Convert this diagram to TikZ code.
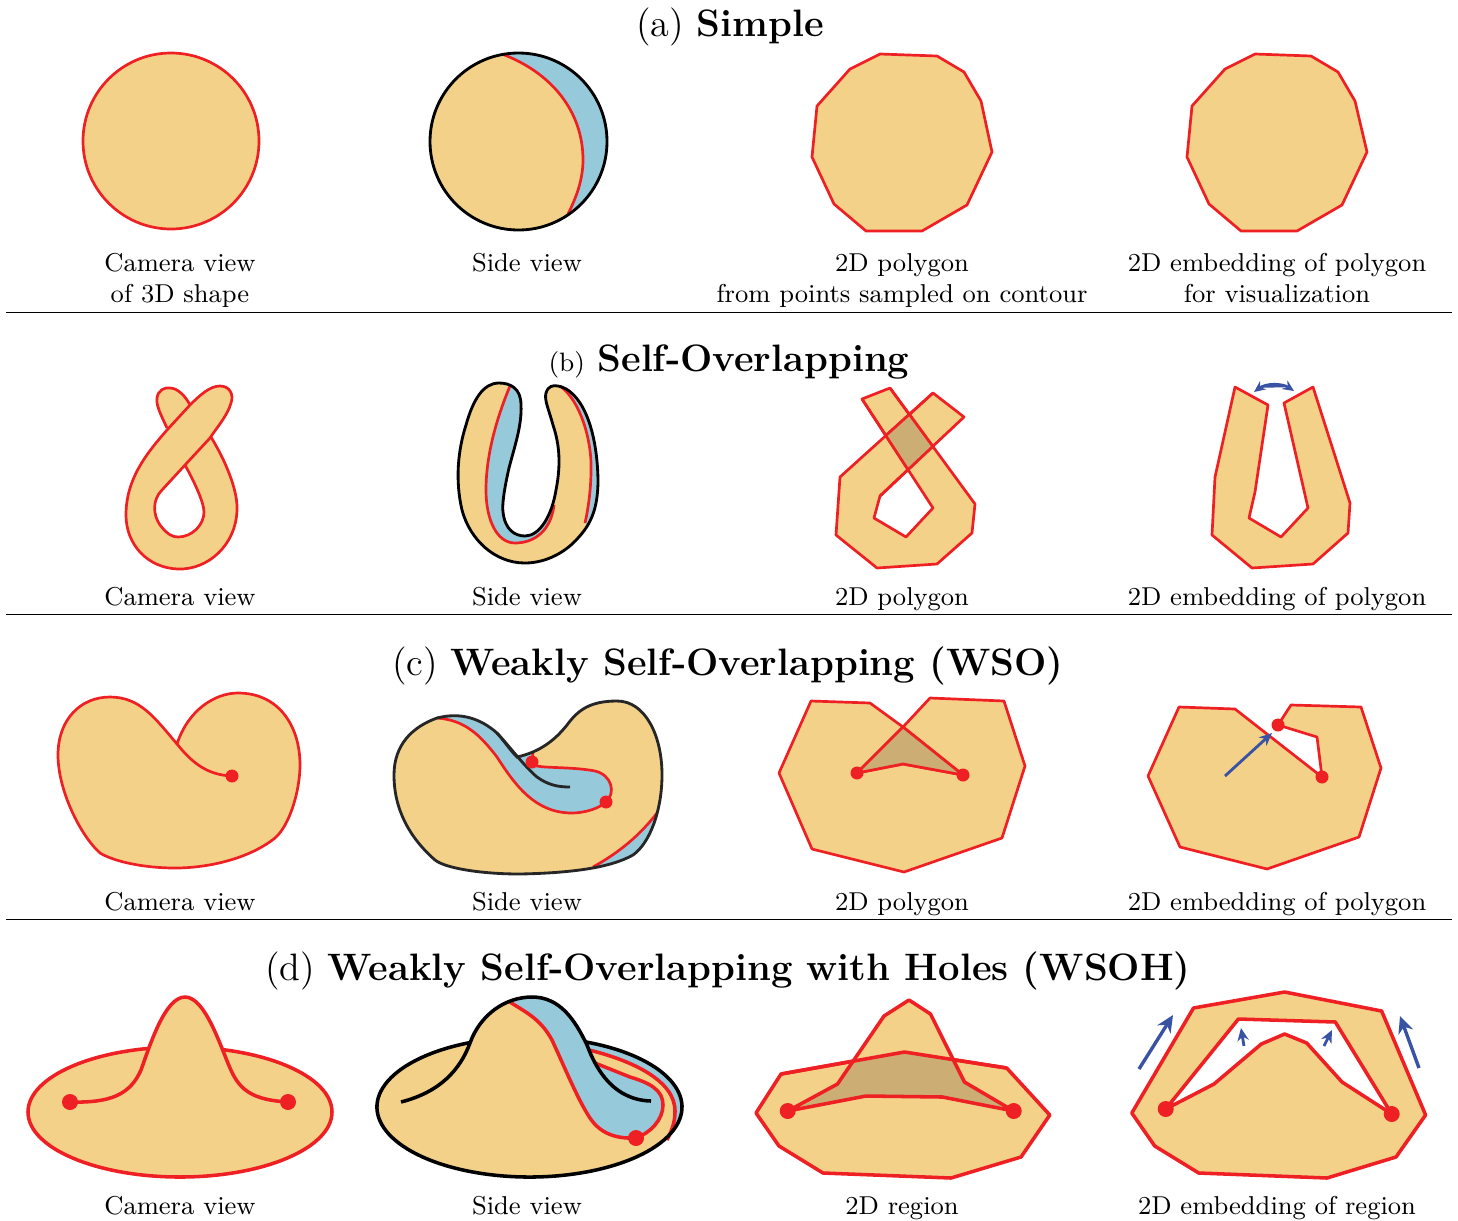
\documentclass[tikz,border=0pt]{standalone}
\usepackage{amsmath,amssymb,amsfonts}
\usepackage{tikz}
\usetikzlibrary{arrows.meta}

\definecolor{sand}{HTML}{F3D189}
\definecolor{darksand}{HTML}{CCAD73}
\definecolor{skyblue}{HTML}{96CADB}
\definecolor{redline}{HTML}{EE2024}
\definecolor{arrowblue}{HTML}{3953A4}

\tikzset{
  thinshape/.style={draw=redline, line width=0.95pt, line join=round, fill=sand},
  thickshape/.style={draw=redline, line width=1.25pt, line join=round, fill=sand},
  redcurve/.style={draw=redline, line width=0.95pt},
  thickcurve/.style={draw=redline, line width=1.25pt},
  blackcurve/.style={draw=black, line width=1pt},
  overlap/.style={fill=darksand},
  dot/.style={fill=redline},
  bluearrow/.style={-{Stealth[length=4.5pt,width=4pt]}, draw=arrowblue, fill=arrowblue, line width=1pt},
  bigarrow/.style={-{Stealth[length=6pt,width=5.5pt]}, draw=arrowblue, fill=arrowblue, line width=1.2pt},
  caption/.style={align=center, font=\fontsize{9.13}{11}\selectfont, inner sep=0pt, text height=1.5ex, text depth=0.4ex},
  heading/.style={align=center, font=\fontsize{13.5}{16}\selectfont, inner sep=0pt},
  rowrule/.style={draw=black, line width=0.35pt}
}

% Curve pieces that are used more than once
\newcommand{\sideb}{(499,383) .. controls (510,383) and (521,388) .. (521,405) .. controls (522,425) and (515,445) .. (509,468) .. controls (504,490) and (502,505) .. (503,512) .. controls (505,530) and (515,536) .. (525,536) .. controls (540,536) and (552,515) .. (556,490) .. controls (562,460) and (558,440) .. (553,425) .. controls (549,410) and (544,400) .. (546,393) .. controls (548,386) and (553,385) .. (558,386) .. controls (580,390) and (597,425) .. (598,480) .. controls (598,510) and (590,525) .. (578,538) .. controls (565,553) and (545,563) .. (525,563) .. controls (495,563) and (470,540) .. (462,510) .. controls (455,480) and (458,450) .. (466,425) .. controls (473,400) and (483,383) .. (499,383) -- cycle}
\newcommand{\sidec}{(437,718) .. controls (460,712) and (480,718) .. (497,733) .. controls (505,742) and (510,750) .. (517,757) .. controls (540,752) and (555,740) .. (567,725) .. controls (578,710) and (590,701) .. (617,701) .. controls (645,701) and (662,735) .. (662,775) .. controls (662,810) and (650,843) .. (633,855) .. controls (610,868) and (570,873) .. (520,874) .. controls (480,874) and (445,868) .. (435,860) .. controls (410,838) and (394,810) .. (394,775) .. controls (394,745) and (412,727) .. (437,718) -- cycle}
\newcommand{\knotlobe}{(167,428) .. controls (160,413) and (156,405) .. (157,398) .. controls (158,390) and (165,387) .. (170,388) .. controls (178,388) and (186,397) .. (190,405)}
\newcommand{\knotbody}{(211,437) .. controls (225,460) and (238,490) .. (237,510) .. controls (236,545) and (208,570) .. (178,569) .. controls (148,568) and (126,545) .. (126,515) .. controls (126,480) and (145,455) .. (167,430) -- (190,405) .. controls (200,395) and (210,386) .. (220,386) .. controls (230,386) and (234,395) .. (231,403) .. controls (228,415) and (215,430) .. (210,438) -- (185,465) -- (162,490) .. controls (152,500) and (153,515) .. (160,525) .. controls (167,534) and (172,537) .. (178,537) .. controls (192,537) and (204,525) .. (204,512) .. controls (204,503) and (195,483) .. (185,465)}
\newcommand{\bumpd}{(401,1102) .. controls (440,1092) and (460,1070) .. (470,1043) .. controls (480,1015) and (505,997) .. (532,997) .. controls (560,997) and (575,1020) .. (587,1045) .. controls (597,1072) and (615,1100) .. (651,1101)}
\newcommand{\redcb}{(437,718) .. controls (465,720) and (480,735) .. (497,757) .. controls (515,785) and (535,813) .. (572,813) .. controls (585,813) and (600,808) .. (606,802) .. controls (616,793) and (612,775) .. (595,771) .. controls (575,767) and (545,768) .. (537,766) .. controls (534,765) and (532,764) .. (532,762)}
\newcommand{\reddb}{(510,1002) .. controls (525,1012) and (540,1018) .. (552,1040) .. controls (565,1068) and (578,1100) .. (590,1118) .. controls (600,1133) and (615,1139) .. (636,1138) .. controls (650,1133) and (663,1120) .. (663,1105) .. controls (663,1090) and (650,1083) .. (630,1077) -- (595,1063)}

\begin{document}
\begin{tikzpicture}[x=0.3533pt, y=-0.3533pt]
\useasboundingbox (0,0) rectangle (1458,1220);

% Headings
\node[heading] (titleA) at (730,27) {(a) \textbf{Simple}};
\node[heading] (titleB) at (729,362) {{\fontsize{9.4}{11}\selectfont (b)} \textbf{Self-Overlapping}};
\node[heading] (titleC) at (728,666) {(c) \textbf{Weakly Self-Overlapping (WSO)}};
\node[heading] (titleD) at (728,971) {(d) \textbf{Weakly Self-Overlapping with Holes (WSOH)}};

% Row rules
\draw[rowrule] (6,312.5) -- (1452,312.5);
\draw[rowrule] (6,614.5) -- (1452,614.5);
\draw[rowrule] (6,919.5) -- (1452,919.5);

% Captions
\node[caption] (capAa) at (180,265) {Camera view};
\node[caption] (capAb) at (180,296) {of 3D shape};
\node[caption] (capAc) at (527,265) {Side view};
\node[caption] (capAd) at (902,265) {2D polygon};
\node[caption] (capAe) at (902,296) {from points sampled on contour};
\node[caption] (capAf) at (1277,265) {2D embedding of polygon};
\node[caption] (capAg) at (1277,296) {for visualization};
\node[caption] (capBa) at (180,599) {Camera view};
\node[caption] (capBb) at (527,599) {Side view};
\node[caption] (capBc) at (902,599) {2D polygon};
\node[caption] (capBd) at (1277,599) {2D embedding of polygon};
\node[caption] (capCa) at (180,904) {Camera view};
\node[caption] (capCb) at (527,904) {Side view};
\node[caption] (capCc) at (902,904) {2D polygon};
\node[caption] (capCd) at (1277,904) {2D embedding of polygon};
\node[caption] (capDa) at (180,1208) {Camera view};
\node[caption] (capDb) at (527,1208) {Side view};
\node[caption] (capDc) at (902,1208) {2D region};
\node[caption] (capDd) at (1277,1208) {2D embedding of region};

% Simple: camera view
\draw[thinshape] (171,141) circle (88);

% Simple: side view
\fill[skyblue] (518.5,141.5) circle (88.5);
\begin{scope}
\clip (518.5,141.5) circle (88.5);
\fill[sand] (502,54) .. controls (550,72) and (583,110) .. (583,160) .. controls (583,180) and (576,198) .. (568,214) -- (568,240) -- (420,240) -- (420,40) -- (502,40) -- cycle;
\end{scope}
\draw[redcurve] (502,54) .. controls (550,72) and (583,110) .. (583,160) .. controls (583,180) and (576,198) .. (568,214);
\draw[blackcurve] (518.5,141.5) circle (88.5);

% Simple: polygon and embedding
\draw[thinshape] (850,69) -- (880,54) -- (937,56) -- (964,72) -- (981,101) -- (992,152) -- (967,205) -- (922,231) -- (866,231) -- (834,204) -- (812,157) -- (817,106) -- cycle;
\draw[thinshape] (1225,69) -- (1255,54) -- (1311,56) -- (1338,72) -- (1355,101) -- (1367,152) -- (1342,205) -- (1297,231) -- (1241,231) -- (1209,204) -- (1187,157) -- (1192,106) -- cycle;

% Self-overlapping: camera view
\fill[sand] \knotlobe -- \knotbody -- cycle;
\draw[redcurve] \knotlobe;
\draw[redcurve] \knotbody;

% Self-overlapping: side view
\fill[skyblue] \sideb;
\begin{scope}
\clip \sideb;
\fill[sand] (510,386) .. controls (500,410) and (486,450) .. (486,490) .. controls (486,520) and (497,543) .. (515,543) .. controls (535,543) and (551,530) .. (554,505) -- (530,450) -- (530,375) -- (560,380) -- (560,386) .. controls (580,400) and (592,440) .. (591,470) .. controls (591,490) and (588,510) .. (585,523) -- (640,600) -- (430,600) -- (430,375) -- (510,375) -- cycle;
\end{scope}
\draw[redcurve] (510,386) .. controls (500,410) and (486,450) .. (486,490) .. controls (486,520) and (497,543) .. (515,543) .. controls (535,543) and (551,530) .. (554,505);
\draw[redcurve] (560,386) .. controls (580,400) and (592,440) .. (591,470) .. controls (591,490) and (588,510) .. (585,523);
\draw[blackcurve] \sideb;

% Self-overlapping: polygon
\draw[thinshape] (890,388) -- (975,504) -- (972,533) -- (937,564) -- (877,568) -- (836,535) -- (840,477) -- (933,393) -- (964,417) -- (880,496) -- (874,518) -- (906,537) -- (933,508) -- (862,399) -- cycle;
\fill[overlap] (909.3,414.4) -- (932.8,446.4) -- (908,469.6) -- (885.8,435.6) -- cycle;
\draw[redcurve] (890,388) -- (932.8,446.4) -- (880,496) (933,393) -- (885.8,435.6) (862,399) -- (908,469.6);

% Self-overlapping: embedding
\draw[thinshape] (1235,387) -- (1268,405) -- (1255,492) -- (1249,518) -- (1281,537) -- (1308,508) -- (1284,403) -- (1313,387) -- (1350,503) -- (1348,533) -- (1313,564) -- (1252,568) -- (1212,535) -- (1215,477) -- cycle;
\draw[bluearrow, {Stealth[length=4pt,width=3.6pt]}-{Stealth[length=4pt,width=3.6pt]}, line width=0.85pt] (1254,392) .. controls (1266,383) and (1282,383) .. (1294,391);

% WSO: camera view
\draw[thinshape] (177,744) .. controls (188,710) and (215,693) .. (238,693) .. controls (278,693) and (300,725) .. (300,765) .. controls (300,790) and (290,825) .. (275,838) .. controls (250,858) and (210,868) .. (175,868) .. controls (145,868) and (115,862) .. (100,853) .. controls (80,835) and (58,790) .. (58,755) .. controls (58,720) and (80,697) .. (110,697) .. controls (140,697) and (155,718) .. (177,744) -- cycle;
\draw[redcurve] (177,744) .. controls (190,760) and (205,775) .. (232,776);
\fill[dot] (232,776) circle (6.5);

% WSO: side view
\fill[sand] \sidec;
\begin{scope}
\clip \sidec;
\fill[skyblue] \redcb -- (535,748) -- (500,720) -- (470,700) -- (437,700) -- cycle;
\fill[skyblue] (593,867) .. controls (620,852) and (640,835) .. (657,813) -- (680,813) -- (680,880) -- (593,880) -- cycle;
\end{scope}
\draw[redcurve] \redcb -- (533,752);
\draw[redcurve] (593,867) .. controls (620,852) and (640,835) .. (657,813);
\draw[blackcurve, draw=black!85] \sidec;
\draw[blackcurve, draw=black!85] (497,733) .. controls (510,747) and (525,767) .. (537,777) .. controls (548,785) and (558,787) .. (570,787);
\fill[dot] (532,762) circle (6.5);
\fill[dot] (606,802) circle (6.5);

% WSO: polygon
\draw[thinshape] (857,773) -- (903,727) -- (930,698) -- (1004,701) -- (1025,766) -- (1002,838) -- (904,872) -- (812,849) -- (779,773) -- (811,701) -- (870,703) -- (903,727) -- (963,775) -- (903,764) -- cycle;
\fill[overlap] (857,773) -- (903,727) -- (963,775) -- (903,764) -- cycle;
\draw[redcurve] (857,773) -- (903,727) -- (963,775) -- (903,764) -- cycle;
\fill[dot] (857,773) circle (6.5);
\fill[dot] (963,775) circle (6.5);

% WSO: embedding
\draw[thinshape] (1278,725) -- (1291,705) -- (1361,707) -- (1381,768) -- (1359,837) -- (1267,869) -- (1180,847) -- (1148,776) -- (1179,707) -- (1235,709) -- (1322,777) -- (1317,737) -- cycle;
\draw[bluearrow] (1225,776) -- (1272,733);
\fill[dot] (1278,725) circle (6.5);
\fill[dot] (1322,777) circle (6.5);

% WSOH: camera view
\draw[thickshape] (180,1112) ellipse (152 and 65);
\fill[sand] (70,1102) .. controls (110,1103) and (130,1095) .. (141,1070) .. controls (150,1045) and (165,997) .. (185,997) .. controls (205,997) and (220,1045) .. (230,1068) .. controls (240,1092) and (255,1100) .. (288,1102) -- cycle;
\draw[thickcurve] (70,1102) .. controls (110,1103) and (130,1095) .. (141,1070) .. controls (150,1045) and (165,997) .. (185,997) .. controls (205,997) and (220,1045) .. (230,1068) .. controls (240,1092) and (255,1100) .. (288,1102);
\fill[dot] (70,1102) circle (8);
\fill[dot] (288,1102) circle (8);

% WSOH: side view
\fill[sand] (529.5,1107) ellipse (152.5 and 70);
\begin{scope}
\clip (529.5,1107) ellipse (152.5 and 70);
\fill[skyblue] (589,1050) .. controls (630,1060) and (676,1080) .. (675,1112) .. controls (675,1123) and (671,1132) .. (667,1140) -- (700,1150) -- (700,1030) -- (589,1030) -- cycle;
\end{scope}
\fill[sand] \bumpd -- cycle;
\fill[skyblue] \reddb -- (587,1045) .. controls (575,1020) and (560,997) .. (532,997) .. controls (521,997) and (515,999) .. (510,1002) -- cycle;
\draw[thickcurve] \reddb;
\draw[thickcurve] (589,1050) .. controls (630,1060) and (676,1080) .. (675,1112) .. controls (675,1123) and (671,1132) .. (667,1140);
\draw[blackcurve, line width=1.25pt] (586.6,1042.1) arc[start angle=-68, end angle=247, x radius=152.5, y radius=70];
\draw[blackcurve, line width=1.25pt] \bumpd;
\fill[dot] (636,1138) circle (8);

% WSOH: region
\draw[thickshape] (781,1074) -- (904.5,1052) -- (1006.7,1068) -- (1049.8,1115) -- (1021,1157) -- (951,1178) -- (823,1173) -- (779,1146) -- (756,1113) -- cycle;
\fill[sand] (837.5,1084) -- (884,1016) -- (909,1000) -- (930.5,1014) -- (964.4,1082) -- cycle;
\fill[overlap] (787.7,1111) -- (837.5,1084) -- (852.5,1061) -- (904.5,1052) -- (953,1059.5) -- (964.4,1082) -- (1013.7,1111) -- (942.4,1097) -- (866,1096) -- cycle;
\draw[thickcurve, line join=round] (787.7,1111) -- (837.5,1084) -- (884,1016) -- (909,1000) -- (930.5,1014) -- (964.4,1082) -- (1013.7,1111) -- (942.4,1097) -- (866,1096) -- cycle;
\draw[thickcurve, line join=round] (781,1074) -- (904.5,1052) -- (1006.7,1068);
\fill[dot] (787.7,1111) circle (8);
\fill[dot] (1013.7,1111) circle (8);

% WSOH: embedding
\draw[thickshape, even odd rule] (1193.5,1008) -- (1284.6,992) -- (1381.6,1011) -- (1425.6,1115) -- (1396,1157) -- (1327,1178) -- (1198.7,1173) -- (1154.7,1146) -- (1131.8,1113) -- cycle (1165.7,1109) -- (1238.4,1019) -- (1335.3,1022) -- (1391.7,1114) -- (1342,1082) -- (1306.7,1043) -- (1284.6,1034) -- (1261.3,1044) -- (1214,1084) -- cycle;
\draw[bigarrow] (1139,1069) -- (1173,1015);
\draw[bigarrow] (1419,1068) -- (1400,1016);
\draw[bluearrow] (1244,1046) -- (1241,1028);
\draw[bluearrow] (1324,1046) -- (1332,1030);
\fill[dot] (1165.7,1109) circle (8);
\fill[dot] (1391.7,1114) circle (8);

\end{tikzpicture}
\end{document}
